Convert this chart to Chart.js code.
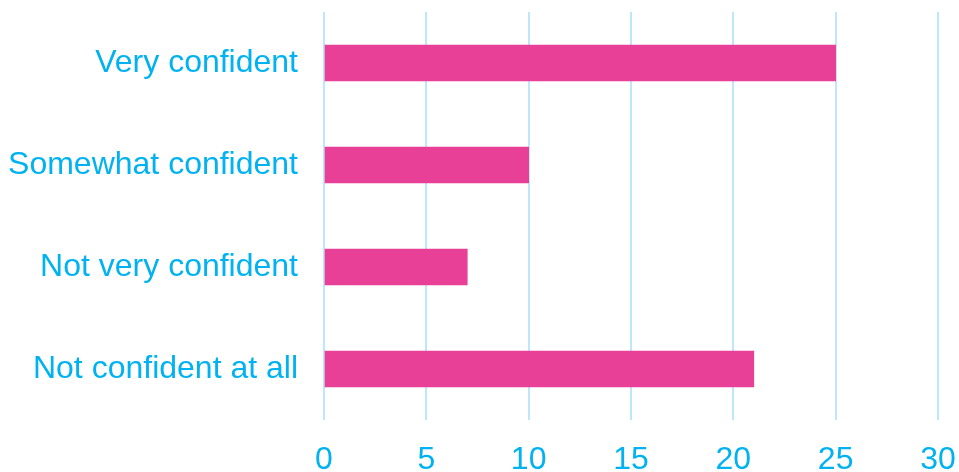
<!DOCTYPE html>
<html>
<head>
<meta charset="utf-8">
<script src="https://cdn.jsdelivr.net/npm/chart.js@4"></script>
<style>
  html, body { margin: 0; padding: 0; background: #fff; }
  #wrap { width: 959px; height: 472px; }
</style>
</head>
<body>
<div id="wrap"><canvas id="chart" width="959" height="472"></canvas></div>
<script>
// data
const categories = ["Very confident", "Somewhat confident", "Not very confident", "Not confident at all"];
const counts = [25, 10, 7, 21];
const xMin = 0, xMax = 30, xStep = 5;

const textColor = "#00b2f2";
const gridColor = "#bde8fb";
const barColor = "#e84096";

const ctx = document.getElementById("chart").getContext("2d");
const chart = new Chart(ctx, {
  type: "bar",
  data: {
    labels: categories,
    datasets: [{ data: counts, backgroundColor: barColor, borderWidth: 0, barThickness: 36 }]
  },
  options: {
    indexAxis: "y",
    responsive: false,
    animation: false,
    layout: { padding: { top: 12, right: 21 } },
    plugins: { legend: { display: false }, tooltip: { enabled: false } },
    scales: {
      x: {
        min: xMin, max: xMax,
        ticks: { stepSize: xStep, color: textColor, padding: 24, font: { family: "Liberation Sans, Arial, sans-serif", size: 32, lineHeight: 1 } },
        grid: { color: gridColor, lineWidth: 2, drawTicks: false },
        border: { display: false },
        afterFit: (s) => { s.height = 52; s.paddingLeft = 0; s.paddingRight = 0; }
      },
      y: {
        ticks: { color: textColor, padding: 26, font: { family: "Liberation Sans, Arial, sans-serif", size: 32 } },
        grid: { display: false, drawTicks: false },
        border: { display: false },
        afterFit: (s) => { s.width = 324; s.paddingTop = 0; s.paddingBottom = 0; }
      }
    }
  }
});
</script>
</body>
</html>
